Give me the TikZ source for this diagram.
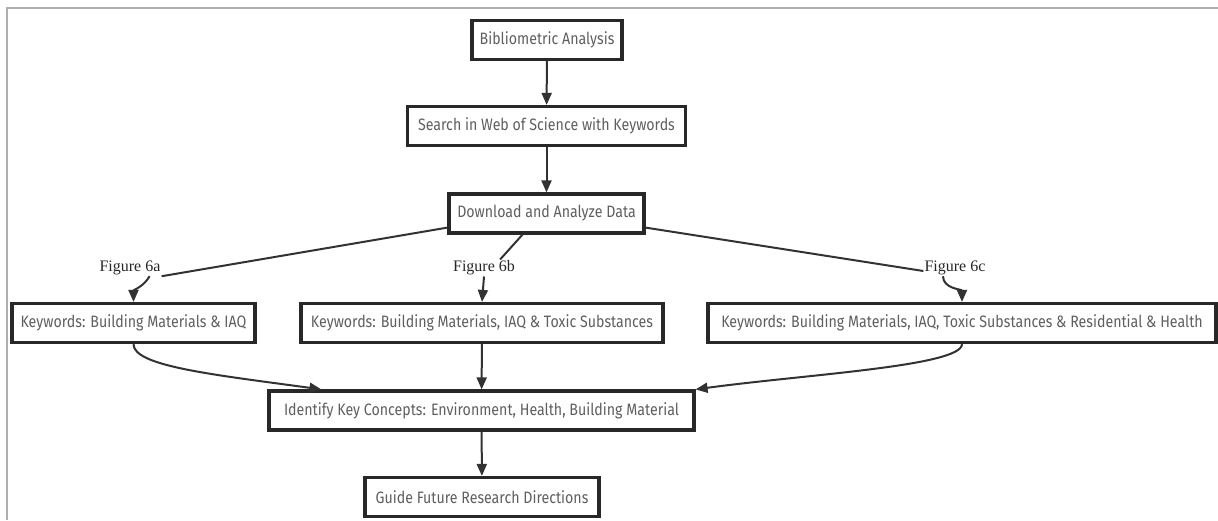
\documentclass[tikz,border=0pt]{standalone}
\usepackage{fontspec}
\newfontfamily\boxfont[FakeStretch=0.86]{Fira Sans}
\newfontfamily\figfont{Liberation Serif}
\definecolor{boxline}{RGB}{40, 40, 40}
\definecolor{boxtext}{RGB}{95, 95, 95}
\definecolor{edgegray}{RGB}{50, 50, 50}
\definecolor{framegray}{RGB}{175, 175, 175}
\usepackage{tikz}
\usetikzlibrary{shapes, arrows.meta, positioning, calc}

\begin{document}
\begin{tikzpicture}[x=1pt, y=-1pt,
    flowbox/.style={draw=boxline, line width=3.2pt, fill=white, text=boxtext,
      font=\boxfont\fontsize{16.5}{18}\selectfont, minimum height=39pt, inner sep=0pt},
    figlabel/.style={font=\figfont\fontsize{16}{18}\selectfont, text=black!85, inner sep=1pt},
    edge/.style={draw=edgegray, line width=2pt},
    arr/.style={edge, -{Triangle[length=12pt, width=10pt]}}]
  \useasboundingbox (0,0) rectangle (1218,520);
  \draw[framegray, line width=2.5pt] (7,520) -- (7,8) -- (1218,8);

  \node[flowbox, minimum width=150pt] (bib) at (547,40) {Bibliometric Analysis};
  \node[flowbox, minimum width=278pt] (srch) at (546.5,126) {Search in Web of Science with Keywords};
  \node[flowbox, minimum width=195pt] (dwn) at (546.5,213.5) {Download and Analyze Data};
  \node[flowbox, minimum width=243pt] (ka) at (133.5,323) {Keywords: Building Materials \& IAQ};
  \node[flowbox, minimum width=362pt] (kb) at (482,323) {Keywords: Building Materials, IAQ \& Toxic Substances};
  \node[flowbox, minimum width=508pt] (kc) at (962,323) {Keywords: Building Materials, IAQ, Toxic Substances \& Residential \& Health};
  \node[flowbox, minimum width=425pt] (idf) at (481.5,410.5) {Identify Key Concepts: Environment, Health, Building Material};
  \node[flowbox, minimum width=234pt] (gde) at (482,497) {Guide Future Research Directions};

  \node[figlabel] (figa) at (130,268) {Figure 6a};
  \node[figlabel] (figb) at (484,268) {Figure 6b};
  \node[figlabel] (figc) at (955,268) {Figure 6c};

  \draw[arr] (bib) -- (srch);
  \draw[arr] (srch) -- (dwn);
  \draw[edge] ([yshift=7pt]dwn.south west) -- (figa.south east);
  \draw[arr] ([xshift=-12pt]figa.south east) to[out=-120, in=90] (ka.north);
  \draw[edge] ([xshift=-24pt]dwn.south) -- ([xshift=-16pt]figb.north east);
  \draw[arr] (figb.south) -- (kb.north);
  \draw[edge] ([yshift=7pt]dwn.south east) -- ([yshift=-3pt]figc.west);
  \draw[arr] ([xshift=-12pt]figc.south) to[out=-90, in=90] (kc.north);
  \draw[arr] (ka.south) .. controls +(0,22) and +(-110,-15) .. ([xshift=54pt]idf.north west);
  \draw[arr] (kb) -- (idf);
  \draw[arr] (kc.south) .. controls +(0,22) and +(110,-15) .. (idf.north east);
  \draw[arr] (idf) -- (gde);
\end{tikzpicture}
\end{document}
